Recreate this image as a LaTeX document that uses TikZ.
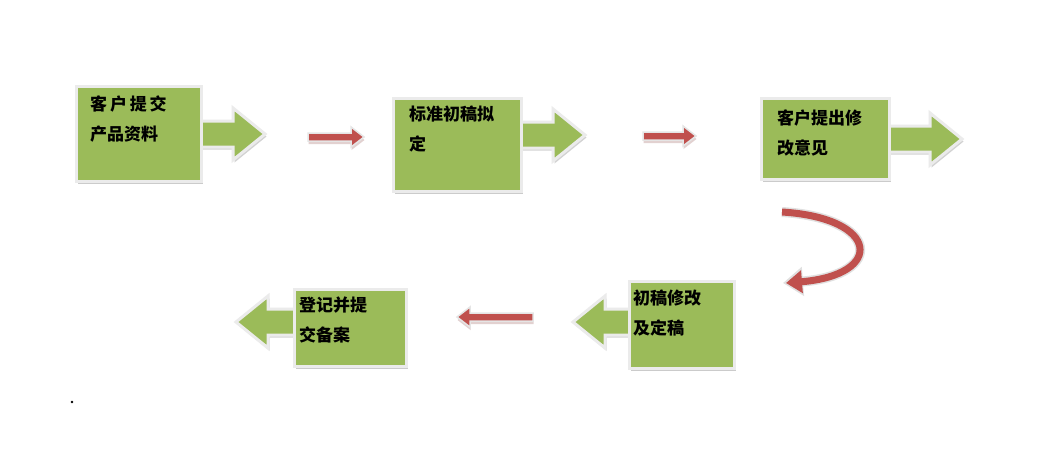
\documentclass[tikz,border=0pt]{standalone}
\usepackage{fontspec}
\newfontfamily\cjk{Noto Sans CJK SC}
\usetikzlibrary{shadows,arrows.meta}
\definecolor{stepgreen}{HTML}{9BBB59}
\definecolor{stepred}{HTML}{C0504D}
% block arrow: #1 style, #2 tail x, #3 tip x, #4 y, #5 shaft half, #6 head half, #7 head length
\newcommand\blockarrow[7]{
  \draw [#1] (#2,#4-#5) -- (#3-#7,#4-#5) -- (#3-#7,#4-#6) -- (#3,#4)
    -- (#3-#7,#4+#6) -- (#3-#7,#4+#5) -- (#2,#4+#5) -- cycle;
}
\tikzset{
  stepbox/.style={draw=white!92!black, line width=3pt, fill=stepgreen,
    drop shadow={shadow xshift=1.5pt, shadow yshift=-2.5pt, fill=black!40},
    anchor=north west, inner sep=0pt},
  greenarrow/.style={draw=white!92!black, line width=3pt, fill=stepgreen,
    drop shadow={shadow xshift=1.5pt, shadow yshift=-2.5pt, fill=black!35}},
  redarrow/.style={draw=white!90!black, line width=1.5pt, fill=stepred,
    drop shadow={shadow xshift=0.5pt, shadow yshift=-3pt, fill=stepred!50!gray!60}},
  steptext/.style={anchor=north west, align=left, font=\cjk\bfseries\fontsize{17}{30}\selectfont,
    inner sep=0pt}
}
\begin{document}
\begin{tikzpicture}[x=1pt, y=-1pt]
  \useasboundingbox [fill=white] (0,0) rectangle (1063,459);

  % top row
  \blockarrow{greenarrow}{190}{265}{134}{13}{26}{32}
  \node [stepbox, minimum width=125pt, minimum height=95pt] (s1) at (75,85) {};
  \node [steptext] (t1) at (90,96) {客\,户\,提\,交\\产品资料};
  \blockarrow{redarrow}{308}{364}{137}{4}{10}{13}

  \blockarrow{greenarrow}{510}{585}{135}{13}{26}{32}
  \node [stepbox, minimum width=128pt, minimum height=93pt] (s2) at (392,97) {};
  \node [steptext] (t2) at (409,106) {标准初稿拟\\定};
  \blockarrow{redarrow}{643}{696}{136}{4}{10}{13}

  \blockarrow{greenarrow}{880}{962}{139}{13}{26}{32}
  \node [stepbox, minimum width=128pt, minimum height=81pt] (s3) at (760,97) {};
  \node [steptext] (t3) at (777,110) {客户提出修\\改意见};

  % turn
  \draw [line width=10pt, draw=white!88!black, -{Triangle[width=28pt,length=20pt]}]
    (782,212) .. controls (880,218) and (885,275) .. (783,283);
  \draw [line width=7pt, draw=stepred, -{Triangle[width=22pt,length=16pt]}]
    (782,212) .. controls (880,218) and (885,275) .. (786,283);

  % bottom row
  \blockarrow{greenarrow}{640}{573}{322}{13}{26}{-32}
  \node [stepbox, minimum width=105pt, minimum height=87pt] (s4) at (628,280) {};
  \node [steptext] (t4) at (633,290) {初稿修改\\及定稿};
  \blockarrow{redarrow}{533}{457}{317}{4}{10}{-13}

  \blockarrow{greenarrow}{300}{236}{322}{13}{26}{-32}
  \node [stepbox, minimum width=112pt, minimum height=77pt] (s5) at (293,288) {};
  \node [steptext] (t5) at (299,297) {登记并提\\交备案};

  \fill (72,402) circle (1.3pt);
\end{tikzpicture}
\end{document}
